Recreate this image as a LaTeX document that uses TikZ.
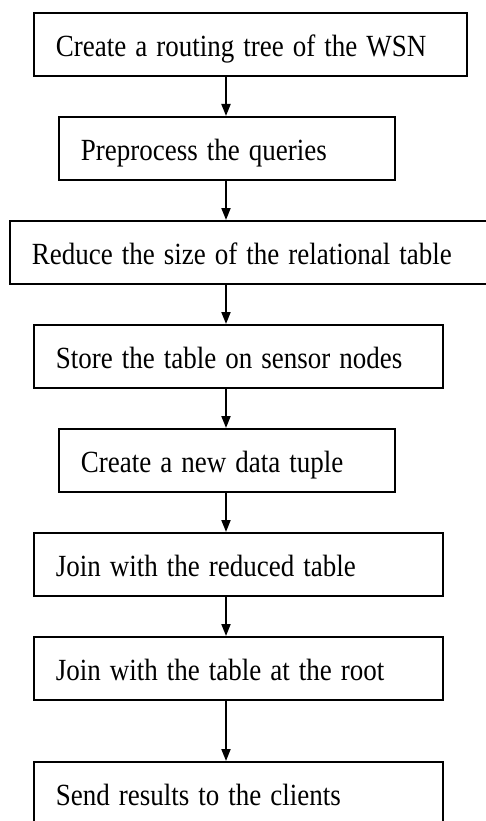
\documentclass[tikz,border=0pt]{standalone}
\usepackage{fontspec}
\usepackage{graphicx}
\setmainfont{Liberation Serif}
\usetikzlibrary{arrows.meta}

% step labels are set slightly taller than the font's natural shape
\newcommand\steptext[1]{\scalebox{1}[1.14]{#1}}

\tikzset{
  stepbox/.style={draw, line width=1.8pt, anchor=north west, minimum height=63pt,
    inner xsep=22pt, inner ysep=0pt, align=left, text height=28pt, text depth=3pt,
    font=\fontsize{27}{33}\selectfont},
  flow/.style={line width=1.8pt, -{Triangle[length=12pt, width=9pt]}}
}

\begin{document}
\begin{tikzpicture}[x=1pt, y=-1pt]
  \useasboundingbox (0,0) rectangle (486,821);
  \clip (0,0) rectangle (486,821);

  % column of the connecting arrows
  \coordinate (ax) at (226,0);

  \node[stepbox, text width=389pt] (b1) at (33,12)  {\steptext{Create a routing tree of the WSN}};
  \node[stepbox, text width=292pt] (b2) at (58,116) {\steptext{Preprocess the queries}};
  \node[stepbox, text width=439pt] (b3) at (9,220)  {\steptext{Reduce the size of the relational table}};
  \node[stepbox, text width=365pt] (b4) at (33,324) {\steptext{Store the table on sensor nodes}};
  \node[stepbox, text width=292pt] (b5) at (58,428) {\steptext{Create a new data tuple}};
  \node[stepbox, text width=365pt] (b6) at (33,532) {\steptext{Join with the reduced table}};
  \node[stepbox, text width=365pt] (b7) at (33,636) {\steptext{Join with the table at the root}};
  \node[stepbox, text width=365pt] (b8) at (33,761) {\steptext{Send results to the clients}};

  \foreach \a/\b in {b1/b2, b2/b3, b3/b4, b4/b5, b5/b6, b6/b7, b7/b8}
    \draw[flow] (\a.south -| ax) -- (\b.north -| ax);
\end{tikzpicture}
\end{document}
